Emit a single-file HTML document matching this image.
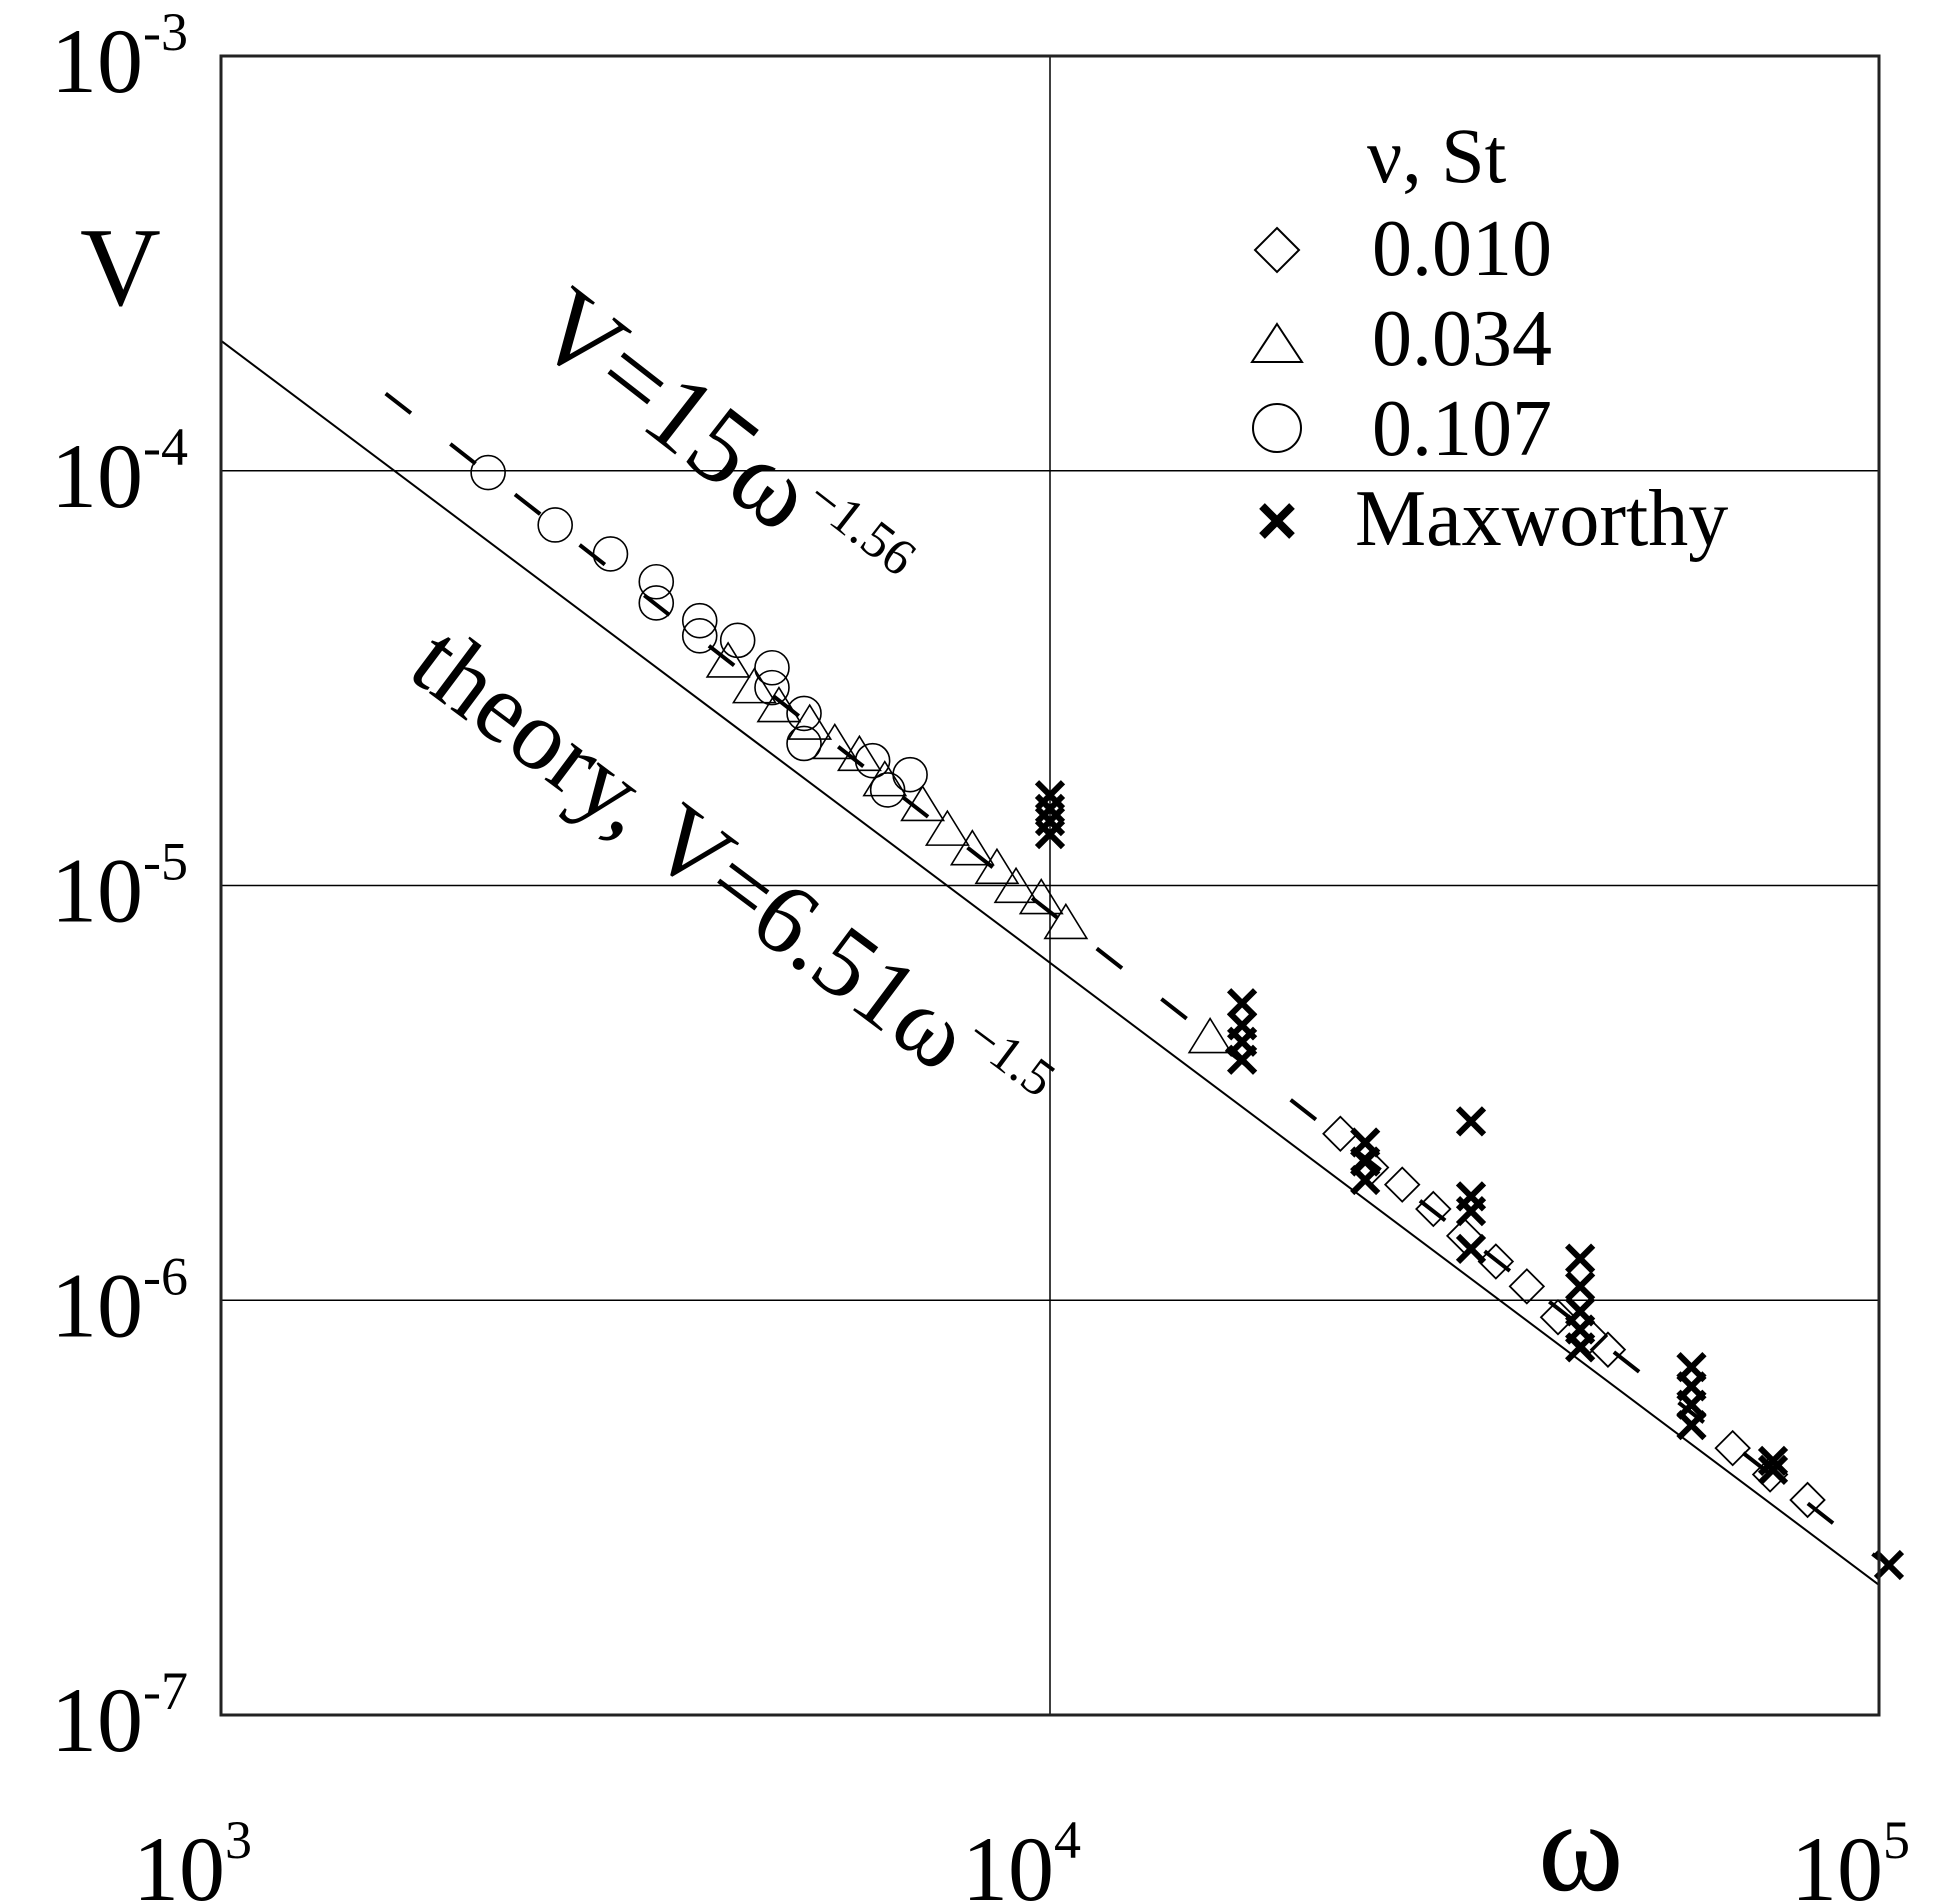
<!DOCTYPE html>
<html><head><meta charset="utf-8"><style>
html,body{margin:0;padding:0;background:#fff;}
svg{display:block;font-family:"Liberation Serif",serif;}
</style></head><body>
<svg id="chart" width="1957" height="1903" viewBox="0 0 1957 1903">
<g id="grid"></g>
<g id="lines"></g>
<g id="marks"></g>
<g id="axes"></g>
<text x="80" y="305" font-size="112">V</text>
<text x="1538" y="1890" font-size="130">ω</text>
<text transform="translate(528,340) rotate(37.9)" font-size="108">V=15ω<tspan dy="-40" font-size="52">−1.56</tspan></text>
<text transform="translate(405,675) rotate(36.8)" font-size="100">theory, V=6.51ω<tspan dy="-40" font-size="52">−1.5</tspan></text>
<g>
<text x="1367" y="182" font-size="78">ν, St</text>
<path d="M1277,228 l22,22 l-22,22 l-22,-22z" fill="none" stroke="#000" stroke-width="2"/>
<text x="1372" y="275" font-size="80">0.010</text>
<path d="M1277,324 l25,38 l-50,0z" fill="none" stroke="#000" stroke-width="2"/>
<circle cx="1277" cy="428" r="24" fill="none" stroke="#000" stroke-width="2"/>
<text x="1372" y="365" font-size="80">0.034</text>
<text x="1372" y="455" font-size="80">0.107</text>
<path d="M1262,506 l30,30 M1292,506 l-30,30" stroke="#000" stroke-width="8"/>
<text x="1355" y="545" font-size="80">Maxworthy</text>
</g>
</svg>
<script>
const circW=[2100,2530,2950,3350,3350,3780,3780,4200,4620,4620,5050,5050,6110,6780,6370];
const circV=[9.9e-5,7.4e-5,6.3e-5,5.4e-5,4.8e-5,4.35e-5,4.0e-5,3.9e-5,3.35e-5,3.0e-5,2.6e-5,2.2e-5,2.0e-5,1.85e-5,1.7e-5];
const triW=[4090,4400,4710,5130,5500,5890,6320,7020,7520,8060,8630,9100,9760,10450,15600];
const triV=[3.46e-5,3.0e-5,2.7e-5,2.45e-5,2.2e-5,2.06e-5,1.79e-5,1.56e-5,1.36e-5,1.22e-5,1.10e-5,9.9e-6,9.3e-6,8.1e-6,4.3e-6];
const diaW=[22400,24400,26600,29000,31600,34500,37600,41000,44800,47100,66600,73900,82000];
const diaV=[2.52e-6,2.09e-6,1.9e-6,1.66e-6,1.43e-6,1.24e-6,1.08e-6,9.1e-7,8.2e-7,7.6e-7,4.4e-7,3.8e-7,3.3e-7];
const maxW=[10000,10000,10000,10000,17050,17050,17050,17050,24000,24000,24000,32200,32200,32200,32200,43600,43600,43600,43600,43600,59400,59400,59400,59400,74500,74500,102800];
const maxV=[1.65e-5,1.53e-5,1.43e-5,1.33e-5,5.2e-6,4.6e-6,4.2e-6,3.8e-6,2.4e-6,2.16e-6,1.95e-6,2.7e-6,1.78e-6,1.64e-6,1.33e-6,1.26e-6,1.08e-6,9.4e-7,8.5e-7,7.7e-7,6.9e-7,6.2e-7,5.6e-7,5.0e-7,4.1e-7,3.9e-7,2.3e-7];
const xTicks=[3,4,5];
const yTicks=[-3,-4,-5,-6,-7];
const theoryCoef=6.51, theoryExp=-1.5, theoryRange=[1000,100000];
const fitCoef=15, fitExp=-1.56, fitRange=[1580,100000];

const L=221,T=56,R=1879,B=1715;
const xs=w=>L+(Math.log10(w)-3)/2*(R-L);
const ys=v=>T+(-3-Math.log10(v))/4*(B-T);
const NS="http://www.w3.org/2000/svg";
function mk(tag,parent,attrs){const e=document.createElementNS(NS,tag);for(const k in attrs)e.setAttribute(k,attrs[k]);document.getElementById(parent).appendChild(e);return e;}

[4].forEach(d=>{const g=mk('line','grid',{x1:xs(10**d),x2:xs(10**d),y1:T,y2:B,stroke:'#000','stroke-width':1.5});

});
[-4,-5,-6].forEach(d=>{const g=mk('line','grid',{x1:L,x2:R,y1:ys(10**d),y2:ys(10**d),stroke:'#000','stroke-width':1.5});

});
const fr=mk('rect','axes',{x:L,y:T,width:R-L,height:B-T,fill:'none',stroke:'#222','stroke-width':3});


xTicks.forEach(d=>{const t=mk('text','axes',{x:xs(10**d)-88,y:1900,'font-size':92});
t.innerHTML='10<tspan dy="-42" font-size="54">'+d+'</tspan>';

});
yTicks.forEach(d=>{const t=mk('text','axes',{x:188,y:ys(10**d)+36,'font-size':92,'text-anchor':'end'});
t.innerHTML='10<tspan dy="-42" font-size="54">'+d+'</tspan>';

});

const th=mk('line','lines',{x1:xs(theoryRange[0]),y1:ys(theoryCoef*theoryRange[0]**theoryExp),x2:xs(theoryRange[1]),y2:ys(theoryCoef*theoryRange[1]**theoryExp),stroke:'#000','stroke-width':2});


const fl=mk('line','lines',{x1:xs(fitRange[0]),y1:ys(fitCoef*fitRange[0]**fitExp),x2:xs(fitRange[1]),y2:ys(fitCoef*fitRange[1]**fitExp),stroke:'#000','stroke-width':4,'stroke-dasharray':'32 50'});



circW.forEach((w,i)=>{const c=mk('circle','marks',{cx:xs(w),cy:ys(circV[i]),r:17,fill:'none',stroke:'#000','stroke-width':1.6});

});
triW.forEach((w,i)=>{const x=xs(w),y=ys(triV[i]);const p=mk('path','marks',{d:`M${x},${y-19} L${x+21},${y+15} L${x-21},${y+15}Z`,fill:'none',stroke:'#000','stroke-width':1.6});

});
diaW.forEach((w,i)=>{const x=xs(w),y=ys(diaV[i]);const p=mk('path','marks',{d:`M${x},${y-17} L${x+17},${y} L${x},${y+17} L${x-17},${y}Z`,fill:'none',stroke:'#000','stroke-width':1.8});

});
maxW.forEach((w,i)=>{const x=xs(w),y=ys(maxV[i]);const p=mk('path','marks',{d:`M${x-13},${y-13} L${x+13},${y+13} M${x+13},${y-13} L${x-13},${y+13}`,stroke:'#000','stroke-width':6});

});
</script>
</body></html>
